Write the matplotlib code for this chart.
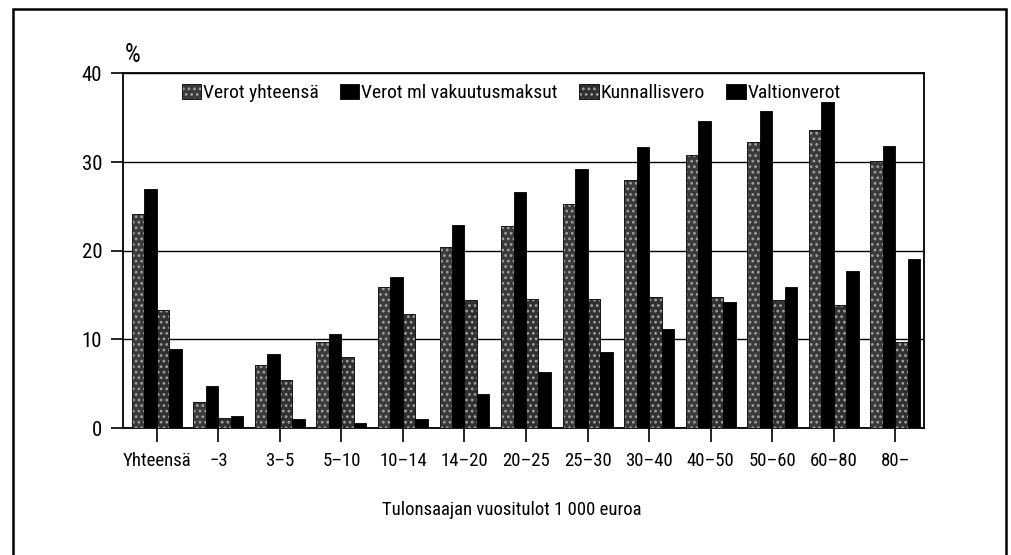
import numpy as np
import matplotlib
matplotlib.use("Agg")
import matplotlib.pyplot as plt
from matplotlib.patches import Rectangle

plt.rcParams['font.family'] = ['Roboto Condensed', 'Archivo Narrow', 'PT Sans Narrow',
                               'Liberation Sans', 'DejaVu Sans']
plt.rcParams['hatch.linewidth'] = 1.2

categories = ["Yhteensä", "\u22123", "3\u20135", "5\u201310", "10\u201314", "14\u201320", "20\u201325",
              "25\u201330", "30\u201340", "40\u201350", "50\u201360", "60\u201380", "80\u2013"]
verot_yhteensa = [24.2, 2.9, 7.1, 9.7, 15.9, 20.4, 22.8, 25.3, 28.0, 30.8, 32.3, 33.6, 30.1]
verot_vakuutus = [27.0, 4.7, 8.4, 10.6, 17.0, 22.9, 26.6, 29.2, 31.7, 34.6, 35.8, 36.8, 31.8]
kunnallisvero = [13.3, 1.1, 5.4, 8.0, 12.9, 14.4, 14.5, 14.5, 14.8, 14.8, 14.4, 13.9, 9.7]
valtionverot = [8.9, 1.3, 1.0, 0.55, 1.0, 3.8, 6.3, 8.6, 11.2, 14.2, 15.9, 17.7, 19.1]

series = [
    ("Verot yhteensä", verot_yhteensa, "#3a3a3a", "..."),
    ("Verot ml vakuutusmaksut", verot_vakuutus, "black", None),
    ("Kunnallisvero", kunnallisvero, "#303030", "..."),
    ("Valtionverot", valtionverot, "black", None),
]
speckle = matplotlib.colors.to_rgba("#a0a0a0")

fig = plt.figure(figsize=(10.11, 5.55), dpi=100)
ax = fig.add_axes([0.1217, 0.2288, 0.7923, 0.6388])

x = np.arange(len(categories))
w = 0.203
for i, (label, vals, color, hatch) in enumerate(series):
    bars = ax.bar(x + (i - 1.5) * w, vals, width=w, color=color, edgecolor="black",
                  linewidth=0.6, hatch=hatch, label=label, zorder=3)
    if hatch:
        # lighter speckle, like the halftone in the print
        for b in bars:
            b._hatch_color = speckle

ax.set_xlim(-0.55, 12.47)
ax.set_ylim(0, 40)
ax.set_yticks([0, 10, 20, 30, 40])
ax.set_xticks(x)
ax.set_xticklabels(categories)
ax.yaxis.grid(True, color="black", linewidth=1.0, zorder=1)
ax.tick_params(axis="y", length=9, width=1.2, pad=6, labelsize=15)
ax.tick_params(axis="x", length=10, width=1.2, pad=7, labelsize=13.5)
for s in ax.spines.values():
    s.set_linewidth(1.3)

leg = ax.legend(loc="center left", bbox_to_anchor=(0.073, 0.944), ncol=4, frameon=False,
                fontsize=14, handlelength=1.0, handleheight=0.8, handletextpad=0.1,
                columnspacing=1.1, borderaxespad=0, borderpad=0)
for h in leg.legend_handles:
    if h.get_hatch():
        h._hatch_color = speckle

fig.text(0.123, 0.901, "%", fontsize=18, ha="left", va="center")
fig.text(0.378, 0.081, "Tulonsaajan vuositulot 1 000 euroa", fontsize=13.5, ha="left", va="center")

# page frame: left, top and right edges (bottom falls outside the image)
fig.patches.append(Rectangle((0.0129, -0.05), 0.982, 1.034, transform=fig.transFigure,
                             fill=False, edgecolor="black", linewidth=1.8))

fig.savefig("out.png", dpi=100)
